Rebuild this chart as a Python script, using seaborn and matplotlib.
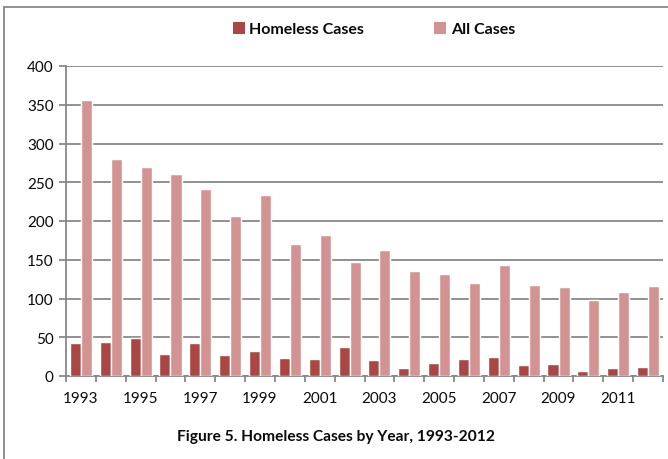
import matplotlib
matplotlib.use("Agg")
import matplotlib.pyplot as plt
from matplotlib.patches import Rectangle
from matplotlib.lines import Line2D
import seaborn as sns
import pandas as pd

years = [str(y) for y in range(1993, 2013)]
homeless_cases = [42, 44, 49, 29, 42, 27, 32, 23, 22, 38,
                  21, 10, 17, 22, 25, 14, 15, 6, 10, 12]
all_cases = [356, 280, 270, 261, 241, 206, 234, 170, 182, 147,
             162, 135, 132, 120, 143, 118, 115, 98, 108, 116]
series_names = ["Homeless Cases", "All Cases"]
colors = ["#AA4643", "#D49393"]
title = "Figure 5. Homeless Cases by Year, 1993-2012"

df = pd.DataFrame({
    "Year": years * 2,
    "Cases": homeless_cases + all_cases,
    "Series": [series_names[0]] * len(years) + [series_names[1]] * len(years),
})

sns.set_theme(style="white")
plt.rcParams["font.family"] = ["Lato", "DejaVu Sans"]

W, H = 668, 460
fig = plt.figure(figsize=(W / 100, H / 100), dpi=100)
ax = fig.add_axes([66 / W, 1 - 377 / H, (663 - 66) / W, (377 - 67) / H])

grid_color = "#888888"
sns.barplot(data=df, x="Year", y="Cases", hue="Series", order=years,
            hue_order=series_names, palette=colors, width=0.74,
            saturation=1, ax=ax, legend=False, zorder=3)

ax.set_ylim(0, 400)
ax.set_xlim(-0.5, len(years) - 0.5)
ax.set_yticks(range(0, 401, 50))
ax.yaxis.grid(True, color=grid_color, linewidth=1.3, zorder=0)
ax.set_axisbelow(True)
ax.set_xlabel("")
ax.set_ylabel("")

# labels every other year, tick marks on category boundaries
ax.set_xticks(range(0, len(years), 2))
ax.set_xticklabels(years[::2])
ax.set_xticks([i - 0.5 for i in range(len(years) + 1)], minor=True)
ax.tick_params(axis="x", which="major", length=0, pad=11, labelsize=11,
               labelcolor="#0A0A0A")
ax.tick_params(axis="x", which="minor", length=4, width=1.3, color=grid_color,
               direction="out", bottom=True)
ax.tick_params(axis="y", length=5, width=1.3, color=grid_color, left=True,
               direction="out", pad=4, labelsize=11, labelcolor="#0A0A0A")

for side in ["top", "right"]:
    ax.spines[side].set_visible(False)
for side in ["left", "bottom"]:
    ax.spines[side].set_color(grid_color)
    ax.spines[side].set_linewidth(1.3)

handles = [Rectangle((0, 0), 1, 1, facecolor=c, edgecolor="none") for c in colors]
leg = fig.legend(handles, series_names, loc="center", ncol=2,
                 bbox_to_anchor=(374 / W, 1 - 30 / H), frameon=False,
                 prop={"weight": "bold", "size": 11.5}, handlelength=0.75,
                 handleheight=0.8, handletextpad=0.3, columnspacing=4.4)
for t in leg.get_texts():
    t.set_color("#0A0A0A")

fig.text(336 / W, 1 - 437 / H, title, ha="center", va="center",
         fontsize=11.2, fontweight="bold", color="#0A0A0A")

# chart frame
fig.add_artist(Line2D([3.5 / W, 3.5 / W], [0, 1 - 7.5 / H], color=grid_color,
                      linewidth=1.3, transform=fig.transFigure))
fig.add_artist(Line2D([3.5 / W, 1], [1 - 7.5 / H, 1 - 7.5 / H], color=grid_color,
                      linewidth=1.3, transform=fig.transFigure))

fig.savefig("out.png", dpi=100)
